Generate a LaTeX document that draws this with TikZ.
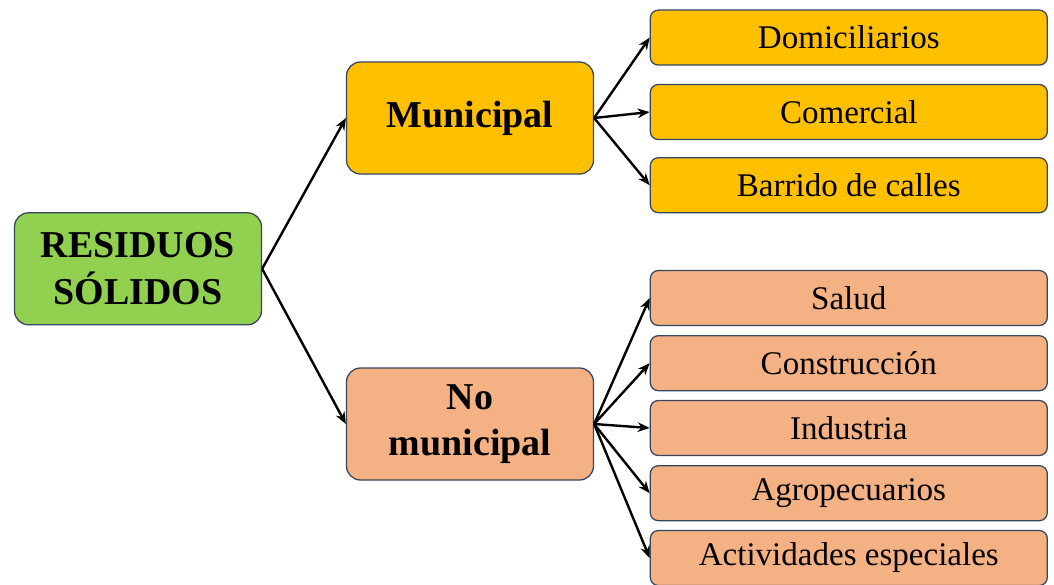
\documentclass[tikz,border=0pt]{standalone}
\usepackage{fontspec}
\setmainfont{Liberation Serif}
\usetikzlibrary{arrows.meta,positioning}
\definecolor{rootgreen}{RGB}{146,208,80}
\definecolor{gold}{RGB}{255,192,0}
\definecolor{salmon}{RGB}{244,177,131}
\definecolor{edge}{RGB}{55,70,95}
\tikzset{
  mainbox/.style={draw=edge,line width=0.9pt,rounded corners=3.5mm,minimum width=6.175cm,minimum height=2.8cm,align=center,inner sep=0pt,font=\fontsize{27}{33}\selectfont\bfseries},
  leaf/.style={draw=edge,line width=0.9pt,rounded corners=2mm,minimum width=9.925cm,minimum height=1.375cm,align=center,inner sep=0pt,font=\fontsize{23.5}{28}\selectfont},
  link/.style={->,line width=1.7pt}
}
\begin{document}
\begin{tikzpicture}[>={Stealth[length=3mm,width=2.4mm]}]
  \useasboundingbox (0,0) rectangle (26.35,-14.6);
  \node[mainbox,fill=rootgreen] (root) at (3.45,-6.72) {RESIDUOS\\SÓLIDOS};
  \node[mainbox,fill=gold] (mun) at (11.75,-2.95) {Municipal};
  \node[mainbox,fill=salmon] (nomun) at (11.75,-10.6) {No\\municipal};
  % municipal branch
  \node[leaf,fill=gold] (dom) at (21.22,-0.94) {Domiciliarios};
  \node[leaf,fill=gold] (com) at (21.22,-2.8) {Comercial};
  \node[leaf,fill=gold] (bar) at (21.22,-4.63) {Barrido de calles};
  % no municipal branch
  \node[leaf,fill=salmon] (sal) at (21.22,-7.45) {Salud};
  \node[leaf,fill=salmon] (con) at (21.22,-9.08) {Construcción};
  \node[leaf,fill=salmon] (ind) at (21.22,-10.7) {Industria};
  \node[leaf,fill=salmon] (agr) at (21.22,-12.33) {Agropecuarios};
  \node[leaf,fill=salmon] (act) at (21.22,-13.95) {Actividades especiales};
  \draw[link] (root.east) -- (mun.west);
  \draw[link] (root.east) -- (nomun.west);
  \foreach \n in {dom,com,bar}
    \draw[link] (mun.east) -- (\n.west);
  \foreach \n in {sal,con,ind,agr,act}
    \draw[link] (nomun.east) -- (\n.west);
\end{tikzpicture}
\end{document}
